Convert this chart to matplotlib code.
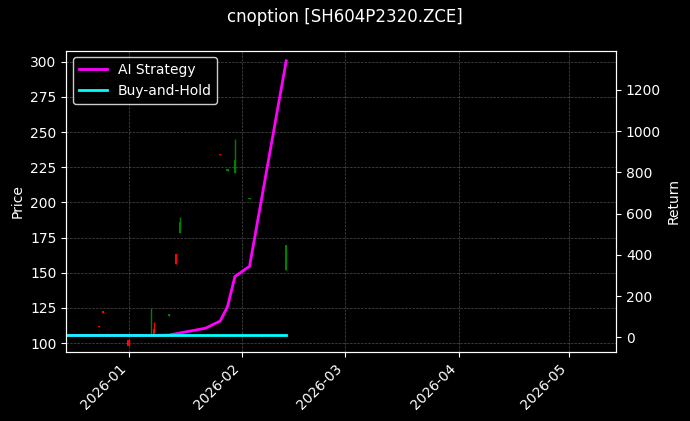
import matplotlib
matplotlib.use("Agg")
import matplotlib.pyplot as plt
import matplotlib.dates as mdates
import pandas as pd

# candles: date, open, high, low, close
candle_dates = ["2025-12-24", "2025-12-25", "2026-01-01", "2026-01-07", "2026-01-08",
                "2026-01-12", "2026-01-14", "2026-01-15", "2026-01-26", "2026-01-28",
                "2026-01-30", "2026-02-03", "2026-02-13"]
opens = [112.5, 122.5, 102, 105, 110, 119, 163, 178, 234.5, 222, 221, 202.5, 152]
highs = [112.5, 122.5, 102, 125, 115, 121, 163, 190, 234.5, 223.5, 245, 203.5, 170]
lows = [111.5, 121.5, 98, 105, 105, 119, 156, 178, 233.5, 222, 221, 202.5, 152]
closes = [111.5, 121.5, 98, 106, 105, 121, 156, 186, 233.5, 223.5, 230, 203.5, 170]

ret_dates = ["2025-12-15", "2026-01-07", "2026-01-12", "2026-01-22", "2026-01-26",
             "2026-01-28", "2026-01-30", "2026-02-03", "2026-02-13"]
ai_return = [10, 10, 12, 45, 80, 150, 295, 345, 1340]
bh_dates = ["2025-12-15", "2026-02-13"]
bh_return = [10, 10]

plt.style.use("dark_background")
fig, ax = plt.subplots(figsize=(6.9, 4.21), dpi=100)
fig.patch.set_facecolor("black")
ax.set_facecolor("black")

cd = pd.to_datetime(candle_dates)
for d, o, h, l, c in zip(cd, opens, highs, lows, closes):
    col = "green" if c >= o else "red"
    ax.vlines(d, l, h, color=col, lw=1)
    ax.bar(d, abs(c - o) if abs(c - o) > 0 else 0.6, bottom=min(o, c), width=0.6, color=col)

ax.set_ylim(94, 308)
ax.set_ylabel("Price")
ax.grid(True, ls="--", lw=0.5, color="gray", alpha=0.6)

ax2 = ax.twinx()
l1, = ax2.plot(pd.to_datetime(ret_dates), ai_return, color="magenta", lw=2, label="AI Strategy")
l2, = ax2.plot(pd.to_datetime(bh_dates), bh_return, color="cyan", lw=2, label="Buy-and-Hold")
ax2.set_ylim(-68, 1390)
ax2.set_ylabel("Return")
ax.legend(handles=[l1, l2], loc="upper left", facecolor="black", edgecolor="white")

ax.set_xlim(pd.Timestamp("2025-12-15"), pd.Timestamp("2026-05-14"))
ax.xaxis.set_major_locator(mdates.MonthLocator())
ax.xaxis.set_major_formatter(mdates.DateFormatter("%Y-%m"))
plt.setp(ax.get_xticklabels(), rotation=45, ha="right")

fig.suptitle("cnoption [SH604P2320.ZCE]")
fig.subplots_adjust(left=0.096, right=0.893, top=0.88, bottom=0.165)
fig.savefig("out.png", facecolor="black")
